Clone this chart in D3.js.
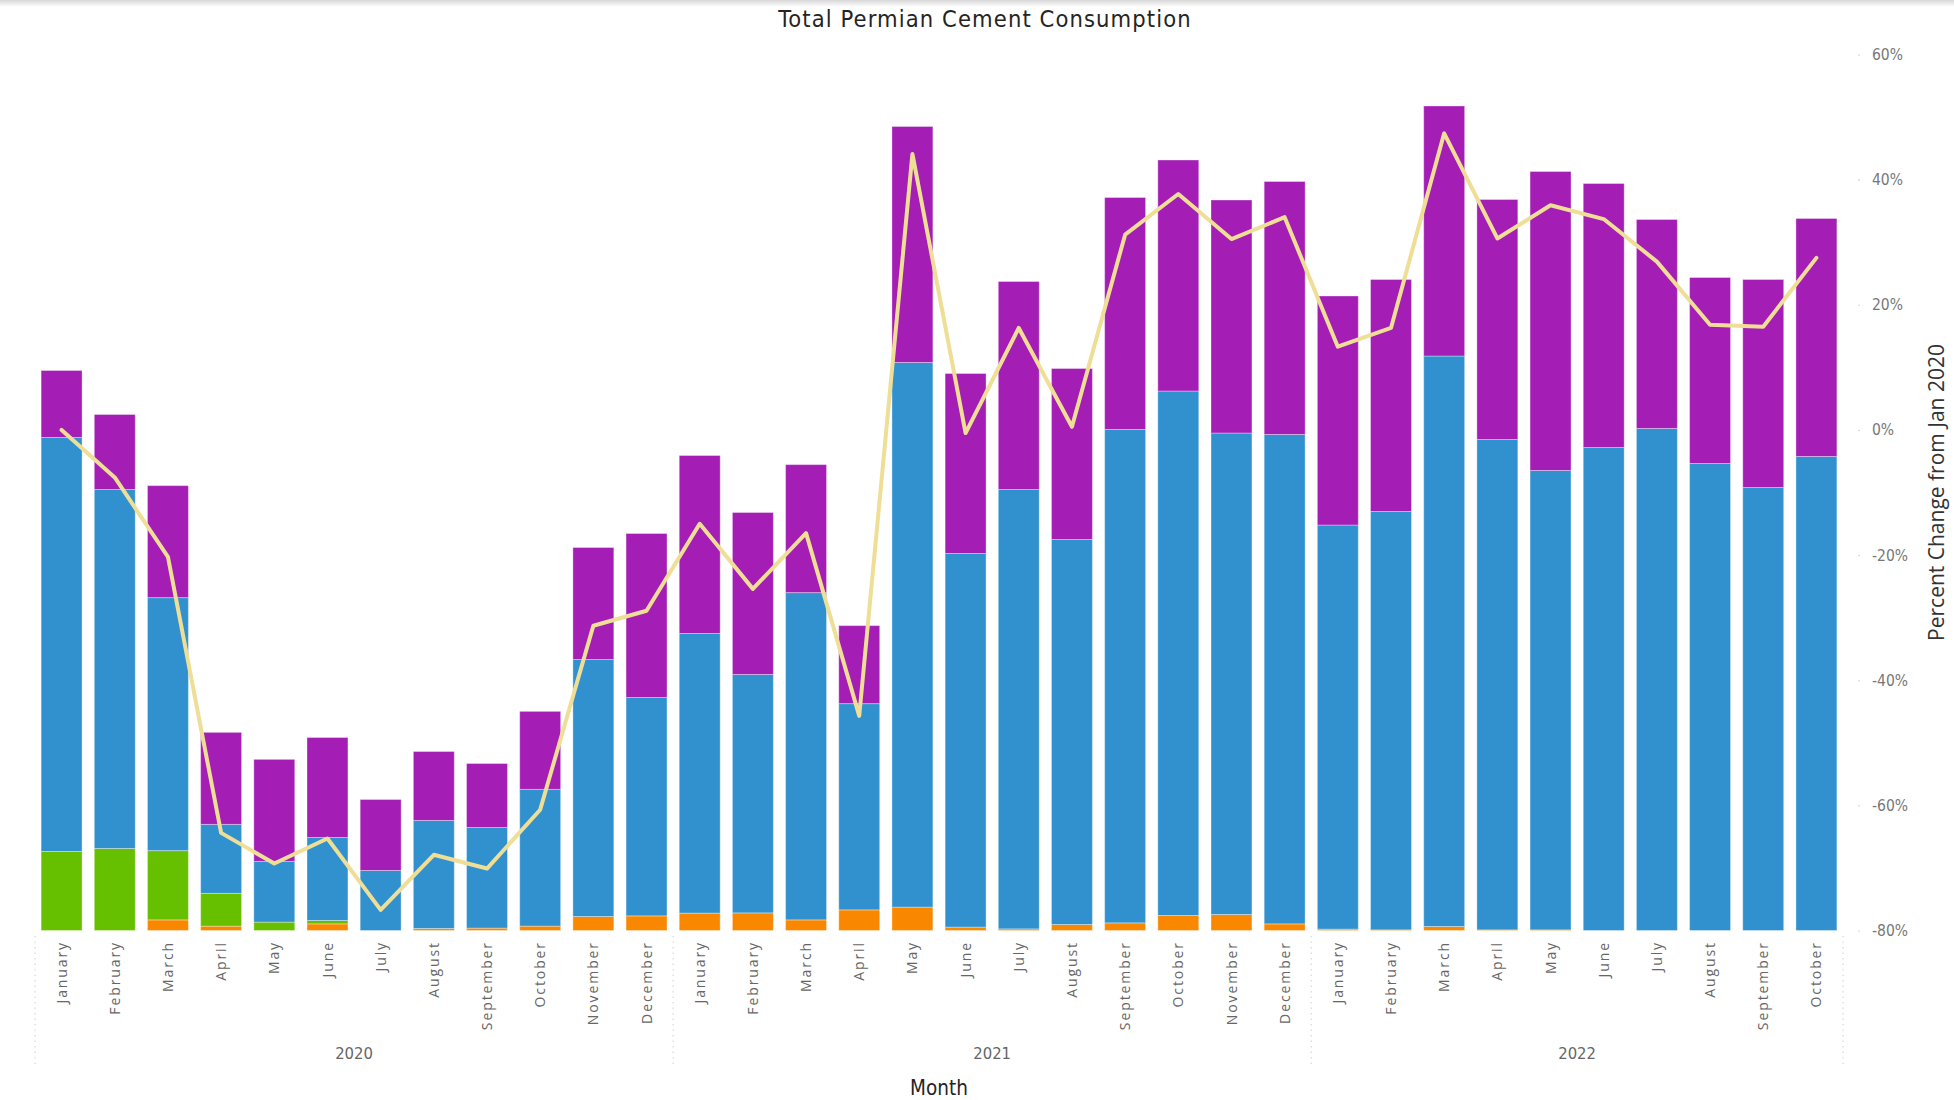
<!DOCTYPE html>
<html><head><meta charset="utf-8">
<script src="https://cdn.jsdelivr.net/npm/d3@7"></script>
<style>
html,body{margin:0;padding:0;background:#fff;}
svg{display:block;}
</style></head><body>
<svg id="chart" width="1954" height="1100"></svg>
<script>
// ---- data ----
const monthNames = ["January","February","March","April","May","June","July","August","September","October","November","December",
  "January","February","March","April","May","June","July","August","September","October","November","December",
  "January","February","March","April","May","June","July","August","September","October"];
const years = [2020,2020,2020,2020,2020,2020,2020,2020,2020,2020,2020,2020,
  2021,2021,2021,2021,2021,2021,2021,2021,2021,2021,2021,2021,
  2022,2022,2022,2022,2022,2022,2022,2022,2022,2022];
const yearLabels = ["2020","2021","2022"];
// stacked bar series (bottom to top)
const seriesOrange = [0,0,8.5,3.5,0,5.3,0,1.6,1.9,3.5,11.2,11.7,
  13.9,14.1,8.5,16.5,18.7,2.7,1.3,4.8,6.1,12,12.8,5.3,
  1.1,0.5,3.2,0.5,0.5,0,0,0,0,0];
const seriesGreen = [63.2,65.6,55.4,26.2,6.7,2.7,0,0,0,0,0,0,
  0,0,0,0,0,0,0,0,0,0,0,0,
  0,0,0,0,0,0,0,0,0,0];
const seriesBlue = [331.2,287.2,202.4,55.2,48.6,66.4,48,86.4,80.5,109.4,205.6,174.7,
  223.7,190.7,261.8,165,435.7,298.9,351.5,308,394.7,419.6,385.2,391.5,
  323.3,334.7,456.4,392.3,367.5,386.4,401.6,373.6,354.4,379.2];
const seriesPurple = [53.6,60,89.6,73.6,81.6,80,56.8,55.2,51.2,62.4,89.6,131.2,
  142.4,129.6,102.4,62.4,188.8,144,166.4,136.8,185.6,184.8,186.4,202.4,
  183.2,185.6,200,192,239.2,211.2,167.2,148.8,166.4,190.4];
// line: percent change from Jan 2020
const pctChange = [0,-7.6,-20.3,-64.4,-69.3,-65.3,-76.7,-67.9,-70.1,-60.7,-31.3,-28.9,
  -15,-25.4,-16.5,-45.7,44.1,-0.5,16.3,0.5,31.2,37.7,30.5,34.0,
  13.3,16.3,47.4,30.6,35.9,33.7,26.9,16.8,16.5,27.5];
const rightTicks = [-80,-60,-40,-20,0,20,40,60];
const seriesKeys = ["orange","green","blue","purple"];
const seriesColors = {orange:"#F98800", green:"#66C000", blue:"#3191CE", purple:"#A41DB5"};

// ---- build ----
const rows = monthNames.map((m,i)=>({key: years[i]+"-"+i, month:m, year:years[i],
  orange:seriesOrange[i], green:seriesGreen[i], blue:seriesBlue[i], purple:seriesPurple[i], pct:pctChange[i]}));

const svg = d3.select("#chart");
const W = 1954, H = 1100;
const plotLeft = 35, plotRight = 1843, plotTop = 54.5, plotBottom = 930.5;

// top header shadow
const defs = svg.append("defs");
const g1 = defs.append("linearGradient").attr("id","topShadow").attr("x1",0).attr("y1",0).attr("x2",0).attr("y2",1);
g1.append("stop").attr("offset","0%").attr("stop-color","#d8d8d8");
g1.append("stop").attr("offset","100%").attr("stop-color","#ffffff");
svg.append("rect").attr("x",0).attr("y",0).attr("width",W).attr("height",7).attr("fill","url(#topShadow)");

const x = d3.scaleBand().domain(rows.map(d=>d.key)).range([plotLeft, plotRight]).paddingInner(0.23).paddingOuter(0.115);
const yL = d3.scaleLinear().domain([0,700]).range([plotBottom, 55.5]);
const yR = d3.scaleLinear().domain([-80,60]).range([plotBottom, plotTop]);

const stack = d3.stack().keys(seriesKeys)(rows);

svg.append("g").selectAll("g").data(stack).join("g")
  .attr("fill", s=>seriesColors[s.key])
  .selectAll("rect").data(s=>s.filter(d=>d[1]-d[0]>0)).join("rect")
  .attr("x", d=>x(d.data.key))
  .attr("width", x.bandwidth())
  .attr("y", d=>yL(d[1]))
  .attr("height", d=>yL(d[0])-yL(d[1]))
  .attr("stroke","rgba(255,255,255,0.35)").attr("stroke-width",1);

// line
const line = d3.line().x(d=>x(d.key)+x.bandwidth()/2).y(d=>yR(d.pct));
svg.append("path").datum(rows).attr("d", line)
  .attr("fill","none").attr("stroke","#EFDE95").attr("stroke-width",4)
  .attr("stroke-linejoin","round").attr("stroke-linecap","round");

// right axis
const rAxis = d3.axisRight(yR).tickValues(rightTicks).tickFormat(d=>d+"%").tickSize(0).tickPadding(14);
const ra = svg.append("g").attr("transform",`translate(${plotRight+15},0)`).call(rAxis);
ra.select(".domain").remove();
ra.selectAll("text").attr("fill","#777").style("font-family","'DejaVu Sans Condensed','DejaVu Sans',sans-serif").style("font-size","15.5px");
ra.selectAll(".tick").append("circle").attr("r",0.8).attr("cx",1).attr("cy",0).attr("fill","#ccc");

// month labels
const ml = svg.append("g");
ml.selectAll("text").data(rows).join("text")
  .attr("transform", d=>`translate(${x(d.key)+x.bandwidth()/2},941) rotate(-90)`)
  .attr("text-anchor","end").attr("dy","0.36em")
  .attr("fill","#666")
  .style("font-family","'Open Sans',sans-serif").style("font-size","14px").style("letter-spacing","1.9px")
  .text(d=>d.month);

// year group separators and labels
const yearGroups = yearLabels.map(y=>{
  const ks = rows.filter(r=>String(r.year)===y).map(r=>r.key);
  return {label:y, x0: x(ks[0]) - x.step()*x.paddingInner()/2, x1: x(ks[ks.length-1]) + x.bandwidth() + x.step()*x.paddingInner()/2};
});
const sepXs = [yearGroups[0].x0, ...yearGroups.map(g=>g.x1)];
svg.append("g").selectAll("line").data(sepXs).join("line")
  .attr("x1",d=>d).attr("x2",d=>d).attr("y1",936).attr("y2",1068)
  .attr("stroke","#d0d0d0").attr("stroke-width",1).attr("stroke-dasharray","1.5,4");
svg.append("g").selectAll("text").data(yearGroups).join("text")
  .attr("x",d=>(d.x0+d.x1)/2).attr("y",1059).attr("text-anchor","middle")
  .attr("fill","#666").style("font-family","'DejaVu Sans Condensed','DejaVu Sans',sans-serif").style("font-size","16.5px")
  .text(d=>d.label);

// axis titles
svg.append("text").attr("x",(plotLeft+plotRight)/2).attr("y",1095).attr("text-anchor","middle")
  .attr("fill","#252423").style("font-family","'DejaVu Sans Condensed','DejaVu Sans',sans-serif").style("font-size","20.5px")
  .text("Month");
svg.append("text").attr("transform",`translate(1944,${(plotTop+plotBottom)/2}) rotate(-90)`).attr("text-anchor","middle")
  .attr("fill","#333").style("font-family","'Open Sans',sans-serif").style("font-size","21px")
  .text("Percent Change from Jan 2020");

// title
svg.append("text").attr("x",985).attr("y",27).attr("text-anchor","middle")
  .attr("fill","#252423").style("font-family","'DejaVu Sans Condensed','DejaVu Sans',sans-serif").style("font-size","23.5px").style("letter-spacing","1.1px")
  .text("Total Permian Cement Consumption");
</script>
</body></html>
